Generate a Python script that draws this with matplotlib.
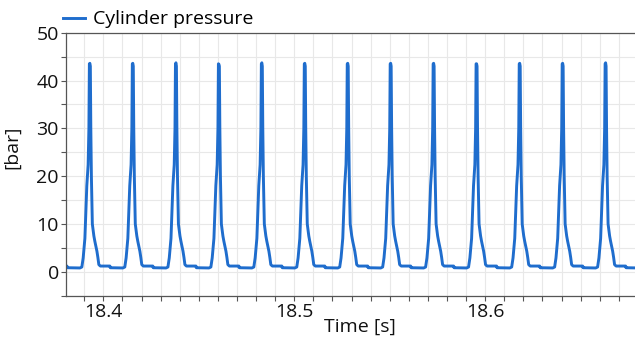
import numpy as np
import matplotlib
matplotlib.use('Agg')
import matplotlib.pyplot as plt
from matplotlib.ticker import MultipleLocator

plt.rcParams['font.family'] = ['Open Sans', 'DejaVu Sans']

# peak times [s] (first one is just left of the view)
peak_times = [18.3704, 18.3929, 18.4154, 18.4380, 18.4605, 18.4830, 18.5055,
              18.5280, 18.5505, 18.5730, 18.5955, 18.6181, 18.6406, 18.6631]
peak_values = [43.6, 43.6, 43.6, 43.7, 43.4, 43.7, 43.6,
               43.6, 43.6, 43.6, 43.5, 43.6, 43.6, 43.7]

# shape of one combustion cycle, offset from the peak [ms] and pressure [bar]
cycle_offset_ms = [-5.2, -4.2, -3.5, -2.6, -2.1, -1.6, -0.9, -0.5, -0.25, 0.0,
                   0.25, 0.5, 0.8, 1.3, 2.1, 2.6, 3.7, 4.2, 4.7, 5.5,
                   10.5, 10.7, 17.2]
cycle_pressure = [0.8, 1.0, 2.9, 7.0, 12.7, 18.0, 22.4, 30.0, 43.5, 43.6,
                  43.0, 30.0, 20.0, 10.0, 7.5, 6.4, 4.3, 3.0, 1.5, 1.2,
                  1.2, 0.85, 0.8]

t = []
p = []
for tp, pv in zip(peak_times, peak_values):
    for off, val in zip(cycle_offset_ms, cycle_pressure):
        t.append(tp + off / 1000.0)
        p.append(pv if off == 0.0 else val)
t = np.array(t)
p = np.array(p)

fig = plt.figure(figsize=(6.35, 3.4), dpi=100)
ax = fig.add_axes([66/635, 1 - 295.7/340, 1 - 66/635, (295.7 - 32.7)/340])

ax.plot(t, p, color='#1f6dcd', linewidth=2.1, label='Cylinder pressure')

ax.set_xlim(18.3804, 18.6785)
ax.set_ylim(-5, 50)
ax.xaxis.set_major_locator(MultipleLocator(0.1))
ax.xaxis.set_minor_locator(MultipleLocator(0.01))
ax.yaxis.set_major_locator(MultipleLocator(10))
ax.yaxis.set_minor_locator(MultipleLocator(5))
ax.xaxis.set_major_formatter(plt.FuncFormatter(lambda v, pos: f'{v:.1f}'))

ax.grid(True, which='both', color='#e8e8e8', linewidth=0.8)
ax.set_axisbelow(True)
ax.tick_params(which='both', direction='out', length=3.6, width=0.8,
               color='#555555', labelsize=14, labelcolor='#111111', pad=1.5)
for side in ['left', 'bottom', 'top']:
    ax.spines[side].set_color('#555555')
    ax.spines[side].set_linewidth(0.9)
ax.spines['right'].set_visible(False)

ax.set_ylabel('[bar]', fontsize=14, color='#111111')
ax.yaxis.set_label_coords(-0.079, 0.565)
ax.set_xlabel('Time [s]', fontsize=14, color='#111111')
ax.xaxis.set_label_coords((359.5 - 66)/569, -0.085)

fig.legend(loc='upper left', bbox_to_anchor=(45.5/635, 1.021), frameon=False,
           fontsize=14, handlelength=1.15, handletextpad=0.4)

fig.savefig('out.png', dpi=100)
